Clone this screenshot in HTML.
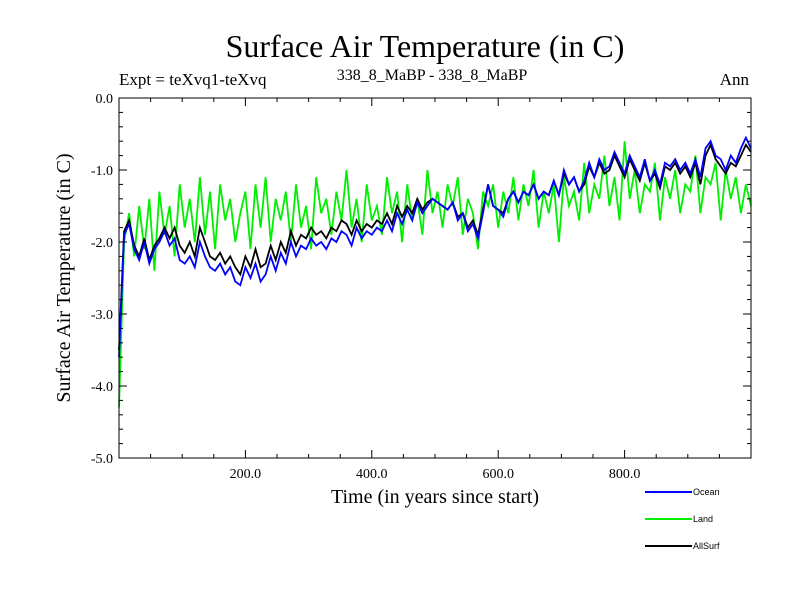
<!DOCTYPE html>
<html><head><meta charset="utf-8"><style>
body{margin:0;background:#fff;}
svg{display:block;font-family:"Liberation Serif",serif;}
</style></head><body>
<svg id="chart" width="800" height="600" xmlns="http://www.w3.org/2000/svg">
<text x="425" y="57" font-size="32" text-anchor="middle">Surface Air Temperature (in C)</text>
<text x="119" y="85" font-size="17">Expt = teXvq1-teXvq</text>
<text x="432" y="80" font-size="16" text-anchor="middle">338_8_MaBP - 338_8_MaBP</text>
<text x="749" y="85" font-size="17" text-anchor="end">Ann</text>
<text transform="translate(70,278) rotate(-90)" font-size="20" text-anchor="middle">Surface Air Temperature (in C)</text>
<text x="435" y="503" font-size="20" text-anchor="middle">Time (in years since start)</text>
<g id="series"></g>
<g id="axes"></g>
<g id="legend" font-family="Liberation Sans, sans-serif" font-size="9"></g>
</svg>
<script>
const categoriesStart = 0, categoriesEnd = 1000;
const xTicks = [200, 400, 600, 800];
const xTickLabels = ["200.0", "400.0", "600.0", "800.0"];
const yTicks = [0, -1, -2, -3, -4, -5];
const yTickLabels = ["0.0", "-1.0", "-2.0", "-3.0", "-4.0", "-5.0"];
const seriesNames = ["Ocean", "Land", "AllSurf"];
const ocean = [-3.6,-1.9,-1.75,-2.1,-2.25,-2.0,-2.3,-2.1,-2.0,-1.85,-2.05,-1.95,-2.25,-2.3,-2.2,-2.35,-2.0,-2.2,-2.35,-2.4,-2.3,-2.45,-2.35,-2.55,-2.6,-2.35,-2.5,-2.3,-2.55,-2.45,-2.2,-2.4,-2.15,-2.3,-2.0,-2.2,-2.05,-2.1,-1.95,-2.05,-2.0,-2.1,-1.95,-2.0,-1.85,-1.9,-2.05,-1.8,-1.95,-1.85,-1.9,-1.8,-1.85,-1.7,-1.85,-1.6,-1.75,-1.55,-1.7,-1.45,-1.6,-1.5,-1.4,-1.45,-1.5,-1.55,-1.45,-1.7,-1.6,-1.85,-1.75,-1.95,-1.6,-1.2,-1.5,-1.55,-1.65,-1.4,-1.3,-1.45,-1.3,-1.35,-1.2,-1.4,-1.3,-1.35,-1.15,-1.35,-1.0,-1.2,-1.1,-1.3,-1.15,-0.9,-1.1,-0.85,-1.0,-0.95,-0.75,-0.9,-1.05,-0.8,-0.95,-1.1,-0.85,-1.15,-1.0,-1.2,-0.9,-0.95,-0.85,-1.0,-0.9,-1.05,-0.85,-1.1,-0.7,-0.6,-0.8,-0.85,-1.0,-0.8,-0.9,-0.7,-0.55,-0.7];
const allSurf = [-3.5,-1.85,-1.7,-2.05,-2.2,-1.95,-2.25,-2.05,-1.95,-1.8,-1.95,-1.8,-2.05,-2.15,-2.0,-2.2,-1.8,-2.0,-2.2,-2.25,-2.15,-2.3,-2.2,-2.35,-2.45,-2.2,-2.35,-2.1,-2.35,-2.3,-2.05,-2.25,-2.0,-2.15,-1.85,-2.05,-1.9,-1.95,-1.8,-1.9,-1.85,-1.95,-1.8,-1.85,-1.7,-1.75,-1.9,-1.7,-1.85,-1.75,-1.8,-1.7,-1.75,-1.6,-1.75,-1.5,-1.65,-1.5,-1.6,-1.4,-1.55,-1.45,-1.4,-1.45,-1.5,-1.55,-1.45,-1.65,-1.6,-1.8,-1.7,-1.9,-1.55,-1.2,-1.5,-1.55,-1.6,-1.4,-1.3,-1.45,-1.3,-1.35,-1.2,-1.4,-1.3,-1.35,-1.15,-1.35,-1.05,-1.2,-1.1,-1.3,-1.2,-0.95,-1.1,-0.9,-1.05,-1.0,-0.8,-0.95,-1.1,-0.85,-1.0,-1.15,-0.9,-1.15,-1.05,-1.25,-0.95,-1.0,-0.9,-1.05,-0.95,-1.1,-0.9,-1.2,-0.8,-0.65,-0.85,-0.95,-1.05,-0.9,-0.95,-0.8,-0.65,-0.75];
const land = [-4.3,-2.0,-1.6,-2.2,-1.5,-2.1,-1.4,-2.4,-1.3,-1.9,-1.5,-2.2,-1.2,-1.8,-1.4,-2.0,-1.1,-1.9,-1.3,-2.1,-1.2,-1.7,-1.4,-2.0,-1.6,-1.3,-2.1,-1.2,-1.8,-1.1,-2.0,-1.4,-1.7,-1.3,-2.0,-1.2,-1.8,-1.5,-2.1,-1.1,-1.6,-1.4,-1.9,-1.3,-1.7,-1.0,-1.8,-1.4,-2.0,-1.2,-1.7,-1.5,-1.9,-1.1,-1.6,-1.3,-2.0,-1.2,-1.7,-1.4,-1.9,-1.0,-1.6,-1.3,-1.8,-1.2,-1.5,-1.1,-1.9,-1.4,-1.6,-2.1,-1.3,-1.5,-1.2,-1.8,-1.3,-1.6,-1.1,-1.7,-1.2,-1.5,-1.0,-1.8,-1.3,-1.6,-1.2,-2.0,-1.1,-1.5,-1.3,-1.7,-0.9,-1.6,-1.2,-1.4,-0.8,-1.5,-1.1,-1.7,-0.6,-1.4,-1.0,-1.6,-1.2,-1.3,-0.9,-1.7,-1.1,-1.4,-1.0,-1.6,-1.2,-1.3,-0.8,-1.6,-1.1,-1.2,-0.9,-1.7,-1.0,-1.4,-1.1,-1.6,-1.2,-1.5];
const seriesData = [ocean, land, allSurf];
const seriesColors = ["#0000ff", "#00ee00", "#000000"];

const L=119, R=751, T=98, B=458, yMin=-5, yMax=0;
const xs = v => L + (v-categoriesStart)/(categoriesEnd-categoriesStart)*(R-L);
const ys = v => T + (yMax-v)/(yMax-yMin)*(B-T);
const NS="http://www.w3.org/2000/svg";
function mk(tag, attrs, parent){const e=document.createElementNS(NS,tag);for(const k in attrs)e.setAttribute(k,attrs[k]);parent.appendChild(e);return e;}
const sg=document.getElementById('series');
[1,2,0].forEach(si=>{
  const d=seriesData[si], n=d.length;
  const pts=d.map((v,i)=>xs(categoriesStart+i*(categoriesEnd-categoriesStart)/(n-1)).toFixed(1)+','+ys(v).toFixed(1)).join(' ');
  const p=mk('polyline',{points:pts,fill:'none',stroke:seriesColors[si],'stroke-width':1.8},sg);
  
  
});
const ag=document.getElementById('axes');
const frame=mk('rect',{x:L,y:T,width:R-L,height:B-T,fill:'none',stroke:'#000','stroke-width':1},ag);


for(let v=50; v<categoriesEnd; v+=50){
  const major = v%200===0, len = major?8:4;
  mk('line',{x1:xs(v),x2:xs(v),y1:B,y2:B-len,stroke:'#000'},ag);
  mk('line',{x1:xs(v),x2:xs(v),y1:T,y2:T+len,stroke:'#000'},ag);
}
xTicks.forEach((v,i)=>{
  const t=mk('text',{x:xs(v),y:B+20,'font-size':14,'text-anchor':'middle'},ag);
  t.textContent=xTickLabels[i];
  
  
});
for(let k=1;k<25;k++){
  const v=-k*0.2, major=k%5===0, len=major?8:4;
  mk('line',{x1:L,x2:L+len,y1:ys(v),y2:ys(v),stroke:'#000'},ag);
  mk('line',{x1:R,x2:R-len,y1:ys(v),y2:ys(v),stroke:'#000'},ag);
}
yTicks.forEach((v,i)=>{
  const t=mk('text',{x:L-6,y:ys(v)+5,'font-size':14,'text-anchor':'end'},ag);
  t.textContent=yTickLabels[i];
  
  
});
const lg=document.getElementById('legend');
seriesNames.forEach((nm,i)=>{
  const y=492+i*27;
  const ln=mk('line',{x1:645,x2:692,y1:y,y2:y,stroke:seriesColors[i],'stroke-width':2},lg);
  
  
  const t=mk('text',{x:693,y:y+3},lg);
  t.textContent=nm;
  
  
});
</script>
</body></html>
